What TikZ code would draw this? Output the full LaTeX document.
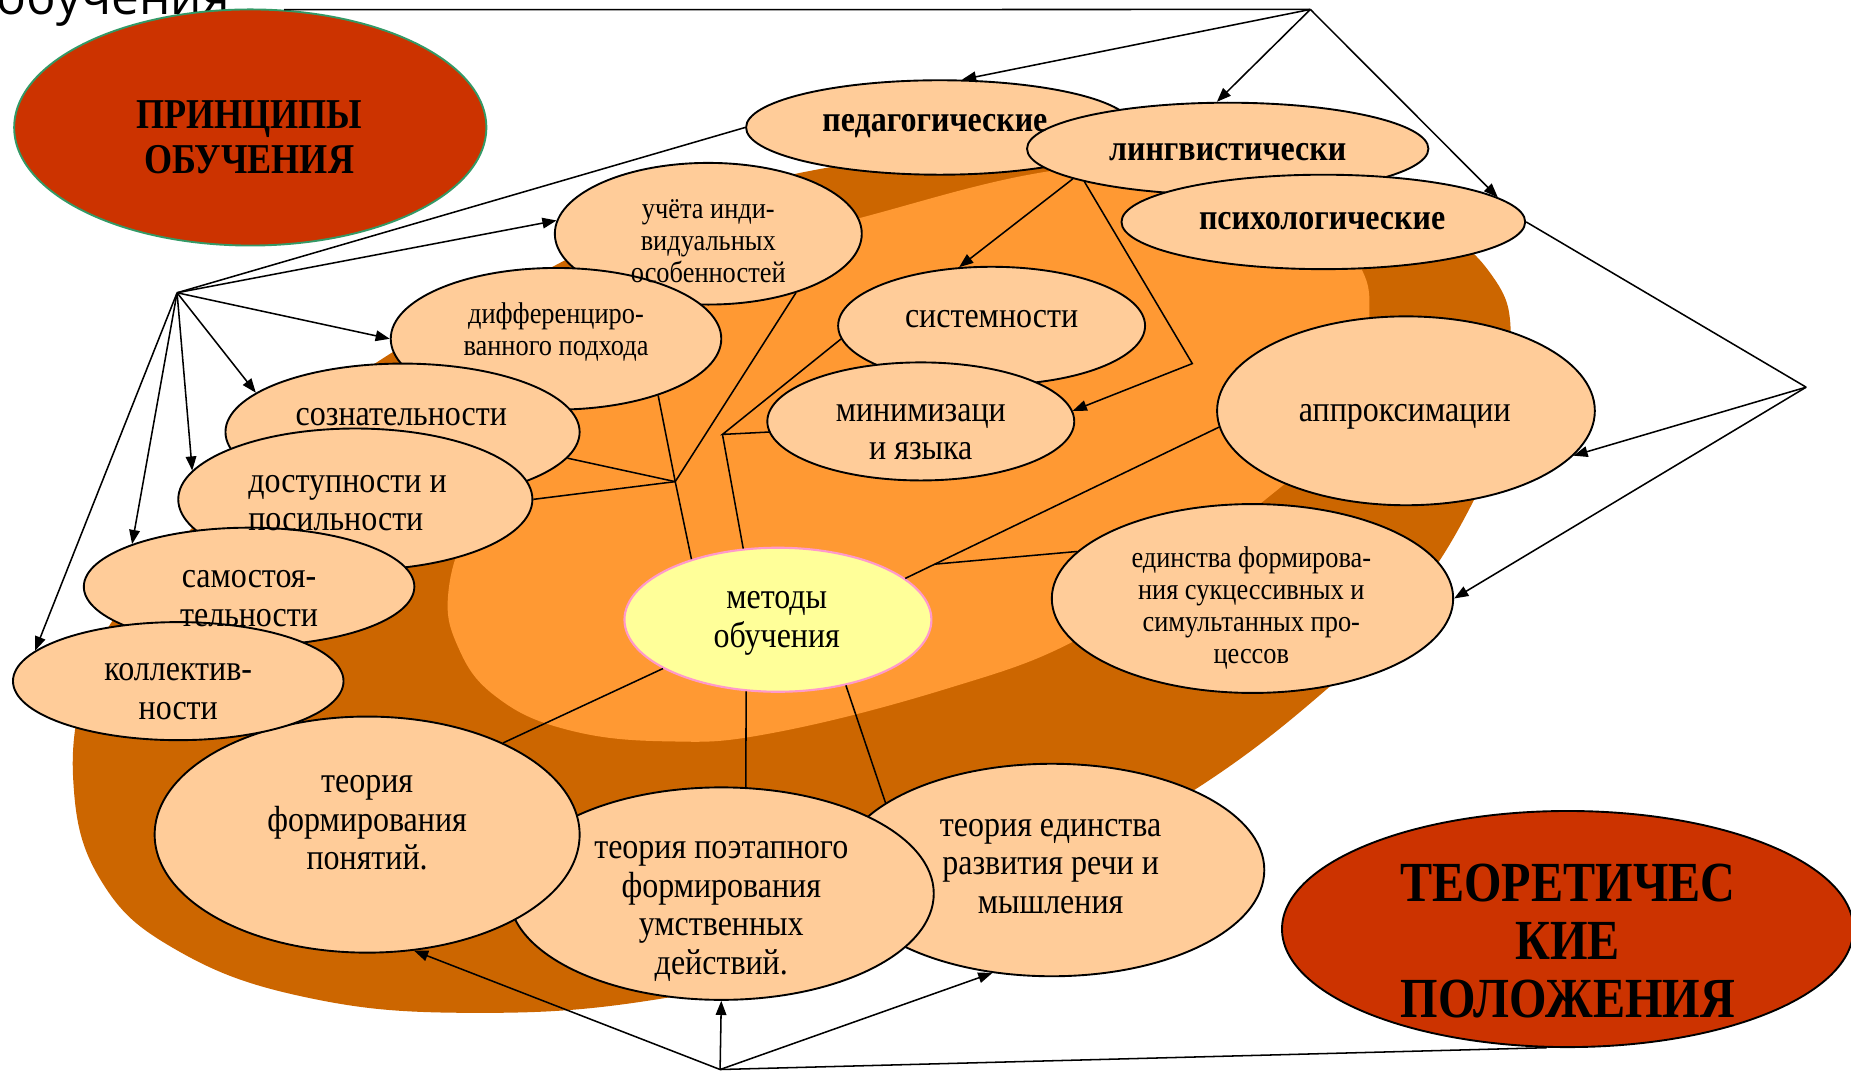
\documentclass[tikz,border=0pt]{standalone}
\usepackage{fontspec}
\setmainfont{Liberation Serif}[FakeStretch=0.88]
\newfontfamily\condbf{Liberation Serif}[FakeStretch=0.85]
\newfontfamily\osans{Open Sans}
\usetikzlibrary{shapes.geometric,arrows.meta,calc}
\definecolor{darkbg}{HTML}{CC6600}
\definecolor{lightbg}{HTML}{FF9933}
\definecolor{peach}{HTML}{FFCC99}
\definecolor{redbig}{HTML}{CC3300}
\definecolor{yel}{HTML}{FFFF99}
\definecolor{pinkb}{HTML}{FF99CC}
\definecolor{tealb}{HTML}{339966}
\tikzset{
  el/.style={ellipse, draw=black, line width=0.8pt, fill=peach, inner sep=0pt},
  bigel/.style={ellipse, fill=redbig, line width=0.8pt, inner sep=0pt},
  metel/.style={ellipse, draw=pinkb, line width=0.9pt, fill=yel, inner sep=0pt},
  ln/.style={line width=0.65pt, draw=black},
  ar/.style={ln, -{Triangle[length=6pt,width=4.5pt]}},
  tA/.style={align=center, inner sep=0pt, font=\fontsize{15.4}{16.3}\selectfont},
  tS/.style={align=center, inner sep=0pt, font=\fontsize{12.7}{13.5}\selectfont},
  tB/.style={inner sep=0pt, font=\fontsize{15.4}{16}\selectfont\bfseries},
  tR/.style={align=center, inner sep=0pt, font=\condbf\bfseries},
}
\begin{document}
\begin{tikzpicture}[x=0.5pt, y=-0.5pt]
\useasboundingbox (0,0) rectangle (1568,908);
% backgrounds
\fill[darkbg] plot[smooth cycle, tension=0.7] coordinates {
 (470,225) (560,180) (680,146) (800,132) (950,130) (1100,150) (1210,190)
 (1265,235) (1280,290) (1268,370) (1240,440) (1190,515) (1126,582) (1012,669)
 (880,740) (730,805) (560,846) (400,858) (260,845) (150,805) (85,745)
 (62,660) (75,570) (110,505) (165,445) (240,370) (330,300)};
\fill[lightbg] plot[smooth cycle, tension=0.7] coordinates {
 (640,210) (731,184) (883,146) (1000,140) (1100,168) (1150,222) (1160,270)
 (1150,330) (1125,380) (1087,411) (1000,480) (912,542) (800,584) (654,621)
 (565,628) (480,618) (420,590) (388,548) (380,500) (400,440) (440,380)
 (500,320) (560,260)};
% top-left fragment of a title
\node[anchor=base west, inner sep=0pt, font=\osans\fontsize{21}{21}\selectfont] (obuch) at (-3,12.7) {обучения};
% main labels
\node[bigel, draw=tealb, minimum width=200pt, minimum height=100pt] (pr) at (212,108) {};
\node[bigel, draw=black, minimum width=242pt, minimum height=100pt] (teo) at (1328,787) {};
% header ellipses
\node[el, minimum width=164pt, minimum height=40pt] (ped) at (796,108) {};
\node[el, minimum width=170pt, minimum height=39pt] (lin) at (1040,126) {};
\node[el, minimum width=171pt, minimum height=40pt] (psy) at (1121,188) {};
% theory ellipses
\node[el, minimum width=180pt, minimum height=90pt] (edr) at (891,737) {};
\node[el, minimum width=180pt, minimum height=90pt] (poe) at (611,757) {};
\node[el, minimum width=180pt, minimum height=100pt] (pon) at (311,707) {};
% left column
\node[el, minimum width=130pt, minimum height=60pt] (uch) at (600,198) {};
\node[el, minimum width=140pt, minimum height=60pt] (dif) at (471,287) {};
\node[el, minimum width=150pt, minimum height=58pt] (soz) at (341,366) {};
\node[el, minimum width=150pt, minimum height=60pt] (dos) at (301,423) {};
\node[el, minimum width=140pt, minimum height=50pt] (sam) at (211,497) {};
\node[el, minimum width=140pt, minimum height=50pt] (kol) at (151,577) {};
% centre and right
\node[el, minimum width=130pt, minimum height=50pt] (sis) at (840,276) {};
\node[el, minimum width=130pt, minimum height=50pt] (min) at (780,357) {};
\node[el, minimum width=160pt, minimum height=80pt] (apr) at (1191,348) {};
\node[el, minimum width=170pt, minimum height=80pt] (edf) at (1061,507) {};
\node[metel, minimum width=130pt, minimum height=61pt] (met) at (659,525) {};
% hubs and junctions
\coordinate (hT) at (1110,8);
\coordinate (hL) at (150,248);
\coordinate (hR) at (1530,328);
\coordinate (hB) at (610,906);
\coordinate (J1) at (572,408);
\coordinate (J2) at (612,368);
\coordinate (K) at (1010,308);
\coordinate (J3) at ($(apr.185)!0.906!(met.18)$);
% connectors
\draw[ln] (pr.74) -- (hT);
\draw[ar] (hT) -- (ped.65);
\draw[ar] (hT) -- (lin.103);
\draw[ar] (hT) -- (psy.8);
\draw[ln] (ped.180) -- (hL);
\draw[ar] (hL) -- (uch.175);
\draw[ar] (hL) -- (dif.180);
\draw[ar] (hL) -- (soz.165);
\draw[ar] (hL) -- (dos.170);
\draw[ar] (hL) -- (sam.160);
\draw[ar] (hL) -- (kol.168);
\draw[ln] (psy.0) -- (hR);
\draw[ar] (hR) -- (apr.-15);
\draw[ar] (hR) -- (edf.0);
\draw[ar] (hB) -- (pon.-68);
\draw[ar] (hB) -- (poe.-90);
\draw[ar] (hB) -- (edr.-120);
\draw[ln] (hB) -- (teo.-100);
\draw[ln] (soz.-9) -- (J1);
\draw[ln] (dos.0) -- (J1);
\draw[ln] (uch.-34) -- (J1);
\draw[ln] (dif.-29) -- (J1) -- (met.145);
\draw[ln] (sis.185) -- (J2) -- (min.184);
\draw[ln] (J2) -- (met.116);
\draw[ar] (lin.191) -- (sis.119);
\draw[ar] (lin.193) -- (K) -- (min.4);
\draw[ln] (apr.185) -- (met.18);
\draw[ln] (edf.165) -- (J3);
\draw[ln] (met.203) -- (pon.34.5);
\draw[ln] (met.-114) -- (poe.77.5);
\draw[ln] (met.-44.5) -- (edr.158);
% texts
\node[tR, font=\condbf\bfseries\fontsize{18}{19}\selectfont] (prT) at (211,116) {ПРИНЦИПЫ\\ОБУЧЕНИЯ};
\node[tR, font=\condbf\bfseries\fontsize{24}{24.5}\selectfont] (teoT) at (1328,797) {ТЕОРЕТИЧЕС\\КИЕ\\ПОЛОЖЕНИЯ};
\node[tB] (pedT) at (792,107) {педагогические};
\node[tB] (linT) at (1040,129) {лингвистически};
\node[tB] (psyT) at (1120,187) {психологические};
\node[tS] (uchT) at (600,204) {учёта инди-\\видуальных\\особенностей};
\node[tS] (difT) at (471,281) {дифференциро-\\ванного подхода};
\node[tA] (sozT) at (340,353) {сознательности};
\node[tA, align=left, anchor=west] (dosT) at (210,426) {доступности и\\посильности};
\node[tA] (samT) at (211,507) {самостоя-\\тельности};
\node[tA] (kolT) at (151,586) {коллектив-\\ности};
\node[tA] (sisT) at (840,270) {системности};
\node[tA] (minT) at (780,366) {минимизаци\\и языка};
\node[tA] (aprT) at (1190,353) {аппроксимации};
\node[tS] (edfT) at (1060,515) {единства формирова-\\ния сукцессивных и\\симультанных про-\\цессов};
\node[tA] (metT) at (658,528) {методы\\обучения};
\node[tA] (ponT) at (311,697) {теория\\формирования\\понятий.};
\node[tA] (poeT) at (611,772) {теория поэтапного\\формирования\\умственных\\действий.};
\node[tA] (edrT) at (890,734) {теория единства\\развития речи и\\мышления};
\end{tikzpicture}
\end{document}
